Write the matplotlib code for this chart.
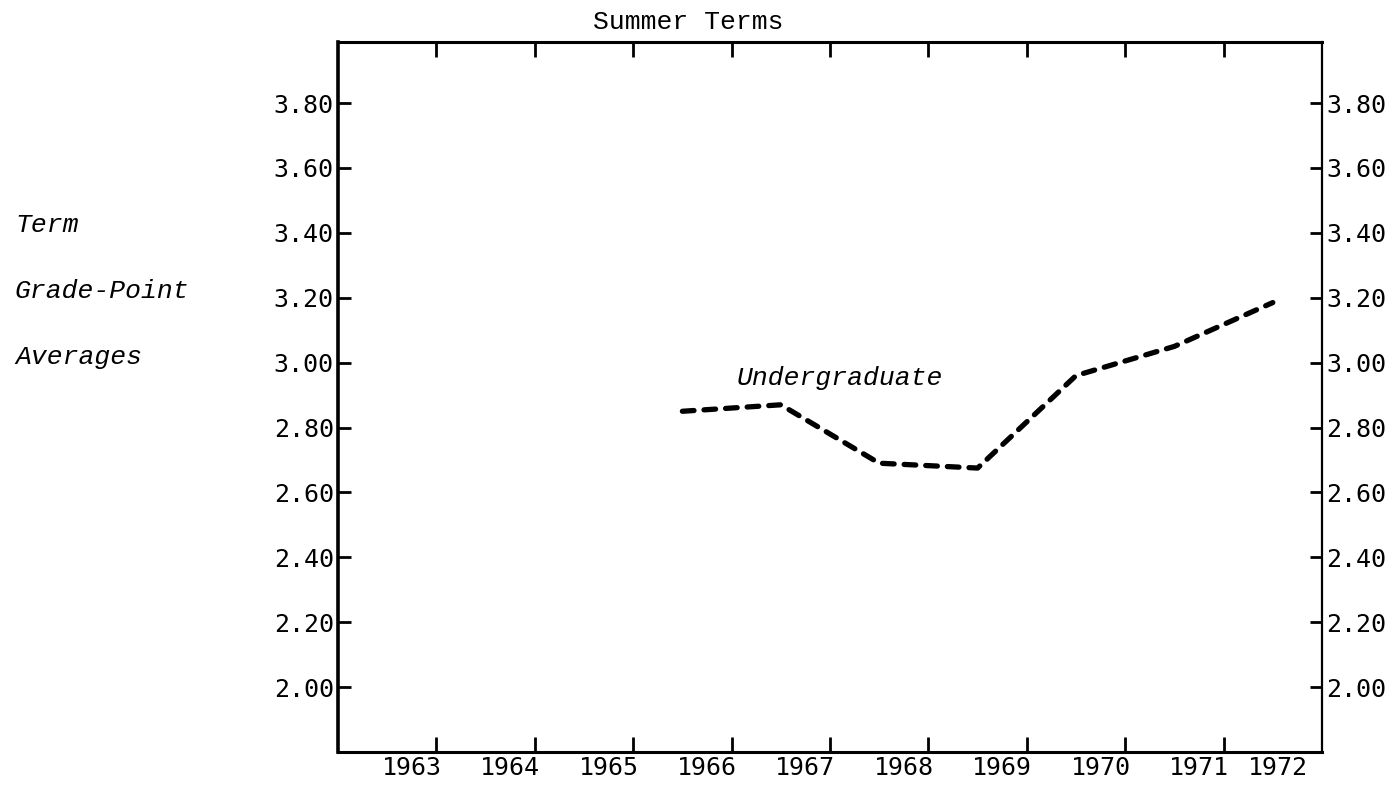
import numpy as np
import matplotlib
matplotlib.use("Agg")
import matplotlib.pyplot as plt

# ---- data ----
years = [1963, 1964, 1965, 1966, 1967, 1968, 1969, 1970, 1971, 1972]
ug_years = [1966, 1967, 1968, 1969, 1970, 1971, 1972]
ug_gpa = [2.85, 2.87, 2.69, 2.675, 2.96, 3.05, 3.185]
yticks = [2.00, 2.20, 2.40, 2.60, 2.80, 3.00, 3.20, 3.40, 3.60, 3.80]
title = "Summer Terms"
ylabel_lines = ["Term", "Grade-Point", "Averages"]
series_label = "Undergraduate"

W, H = 1400, 785
fig = plt.figure(figsize=(W / 100, H / 100), dpi=100)
ax = fig.add_axes([338 / W, 1 - 752 / H, (1322 - 338) / W, (752 - 42) / H])

ax.plot(ug_years, ug_gpa, color="black", lw=3.8,
        linestyle=(0, (2.2, 1.9)), dash_capstyle="round", solid_capstyle="round")

ax.set_xlim(years[0] - 0.5, years[-1] + 0.5)
ax.set_ylim(1.80, 3.988)

# boundaries between years as tick marks (no labels)
yrs = np.array(years, dtype=float)
ax.set_xticks(yrs[:-1] + 0.5, minor=True)
ax.tick_params(axis="x", which="minor", direction="in", length=11, width=2,
               top=True, bottom=True)
# year labels
lab_pos = np.minimum(yrs + 0.25, yrs[-1] + 0.05)
ax.set_xticks(lab_pos)
ax.set_xticklabels([str(y) for y in years], fontfamily="DejaVu Sans Mono", fontsize=18)
ax.tick_params(axis="x", which="major", length=0, pad=3)

ax.set_yticks(yticks)
ax.set_yticklabels([f"{v:.2f}" for v in yticks], fontfamily="DejaVu Sans Mono", fontsize=18)
ax.tick_params(axis="y", direction="in", length=9, width=2, left=True, right=True,
               labelleft=True, labelright=True, pad=3)

for side, lw in [("left", 2.6), ("top", 2.2), ("bottom", 2.2), ("right", 1.6)]:
    ax.spines[side].set_linewidth(lw)

fig.text(688 / W, 1 - 22 / H, title, ha="center", va="center",
         fontfamily="Liberation Mono", fontsize=19)

for txt, yy in zip(ylabel_lines, [225, 291, 357]):
    fig.text(15 / W, 1 - yy / H, txt, ha="left", va="center",
             fontfamily="Liberation Mono", fontstyle="italic", fontsize=19)

fig.text(840 / W, 1 - 378 / H, series_label,
         ha="center", va="center", fontfamily="Liberation Mono",
         fontstyle="italic", fontsize=19)

fig.savefig("out.png", dpi=100)
